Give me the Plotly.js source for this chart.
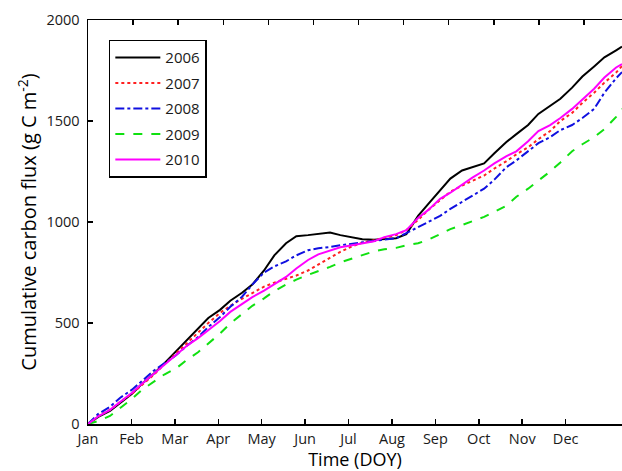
<!DOCTYPE html>
<html>
<head>
<meta charset="utf-8">
<script src="https://cdn.plot.ly/plotly-3.0.1.min.js"></script>
<style>html,body{margin:0;padding:0;background:#fff;}#chart{width:622px;height:471px;}</style>
</head>
<body>
<div id="chart"></div>
<script>
// Day of year for every reading
const doy = [1,8,16,23,31,38,46,53,61,68,76,83,91,98,106,113,121,128,136,143,151,158,166,173,181,188,196,203,211,218,226,233,241,248,256,263,271,278,286,293,301,308,316,323,331,338,346,353,361,365];

// Cumulative carbon flux (g C m-2)
const y2006 = [0,35,65,105,150,200,250,300,360,410,470,525,565,610,650,690,760,835,895,930,935,942,948,935,925,915,912,915,920,940,1030,1090,1155,1215,1255,1272,1290,1340,1395,1435,1480,1535,1575,1610,1665,1720,1770,1815,1850,1868];
const y2007 = [0,40,70,110,150,195,245,295,350,400,450,500,550,585,620,650,680,700,720,735,760,790,820,852,880,898,910,920,935,960,1010,1060,1110,1150,1180,1205,1230,1265,1300,1335,1370,1410,1450,1500,1540,1590,1640,1690,1740,1772];
const y2008 = [0,50,85,130,170,215,265,300,340,385,430,480,530,580,630,690,750,780,805,835,860,870,876,885,892,898,905,912,920,945,975,1000,1030,1065,1100,1130,1165,1210,1270,1305,1350,1390,1420,1455,1480,1515,1560,1640,1712,1742];
const y2009 = [0,15,40,80,125,170,210,245,275,315,355,400,448,498,543,585,622,658,690,715,738,755,778,800,820,838,855,865,872,885,895,912,940,965,985,1005,1025,1050,1080,1125,1165,1205,1250,1295,1350,1385,1420,1460,1520,1560];
const y2010 = [0,38,70,110,155,200,250,295,345,385,425,465,510,555,595,628,660,692,728,770,812,840,858,875,885,895,905,925,940,960,1020,1060,1115,1145,1185,1220,1255,1290,1325,1350,1400,1450,1480,1515,1560,1605,1660,1715,1765,1782];

const seriesNames = ['2006','2007','2008','2009','2010'];
const monthLabels = ['Jan','Feb','Mar','Apr','May','Jun','Jul','Aug','Sep','Oct','Nov','Dec'];
const monthTicks = [1,30.6,60.2,89.8,119.4,149,178.6,208.2,237.8,267.4,297,326.6];
const topTicks = [31.7,62.5,93.2,123.9,154.7,185.4,216.2,246.9,277.6,308.4,339.1];
const yTicks = [0,500,1000,1500,2000];

const values = [y2006,y2007,y2008,y2009,y2010];
const styles = [
  {color:'#000000', dash:'solid'},
  {color:'#ff2020', dash:'dot'},
  {color:'#1010e0', dash:'dashdot'},
  {color:'#10e010', dash:'dash'},
  {color:'#ff00ff', dash:'solid'}
];

const traces = values.map((v,i)=>({
  x: doy, y: v, type:'scatter', mode:'lines', name: seriesNames[i],
  legendgroup: 'g'+i,
  line:{color:styles[i].color, dash:styles[i].dash, width:2}
}));
traces.push({x:[1,365], y:[null,null], xaxis:'x2', yaxis:'y', mode:'lines', showlegend:false, hoverinfo:'skip'});

const FAM = 'Open Sans, Noto Sans, sans-serif';
const tickFont = {family:FAM, size:14.5, color:'#1a1a1a'};

const layout = {
  width:622, height:471,
  margin:{l:88, r:0, t:20, b:47},
  paper_bgcolor:'#fff', plot_bgcolor:'#fff',
  showlegend:true,
  legend:{x:0.039, y:0.951, xanchor:'left', yanchor:'top',
    bgcolor:'#fff', bordercolor:'#000', borderwidth:1.5,
    font:{family:FAM, size:15, color:'#1a1a1a'},
    tracegroupgap:3, itemwidth:45},
  xaxis:{range:[1,365], tickvals:monthTicks, ticktext:monthLabels,
    ticks:'inside', ticklen:5, tickwidth:1.5, tickcolor:'#000',
    showline:true, linecolor:'#000', linewidth:1.5, showgrid:false, zeroline:false,
    tickfont:tickFont, ticklabelstandoff:1,
    title:{text:'Time (DOY)', font:{family:FAM, size:18, color:'#000'}, standoff:2}},
  xaxis2:{range:[1,365], overlaying:'x', side:'top', tickvals:topTicks, showticklabels:false,
    ticks:'inside', ticklen:5, tickwidth:1.5, tickcolor:'#000',
    showline:true, linecolor:'#000', linewidth:1.5, showgrid:false, zeroline:false},
  yaxis:{range:[0,2000], tickvals:yTicks,
    ticks:'inside', ticklen:5, tickwidth:1.5, tickcolor:'#000',
    showline:true, linecolor:'#000', linewidth:1.5, showgrid:false, zeroline:false,
    tickfont:tickFont, ticklabelstandoff:4,
    title:{text:'Cumulative carbon flux (g C m<sup>-2</sup>)', font:{family:FAM, size:20, color:'#000'}, standoff:4}}
};

Plotly.newPlot('chart', traces, layout, {staticPlot:true, displayModeBar:false});
</script>
</body>
</html>
